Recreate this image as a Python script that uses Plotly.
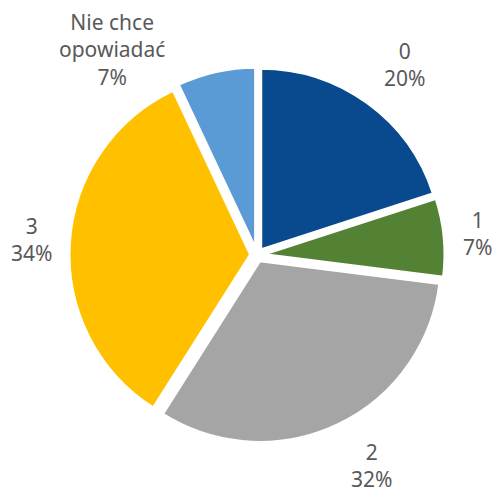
import plotly.graph_objects as go

categories = ["0", "1", "2", "3", "Nie chce<br>opowiadać"]
values = [20, 7, 32, 34, 7]
colors = ["#094A8F", "#548235", "#A5A5A5", "#FFC000", "#5B9BD5"]

W, H = 493, 492
CX, CY, R = 257, 255, 188  # pie centre and outer radius (pixels)

# label block centres (pixels), in category order
label_pos = [(404, 65), (477, 233), (371, 465), (31, 239), (112, 50)]

total = sum(values)
label_texts = [f"{c}<br>{round(v / total * 100)}%" for c, v in zip(categories, values)]

fig = go.Figure(go.Pie(
    labels=categories,
    values=values,
    sort=False,
    direction="clockwise",
    rotation=0,
    marker=dict(colors=colors, line=dict(color="white", width=3)),
    pull=[0.035] * len(values),
    textinfo="none",
    showlegend=False,
    hoverinfo="label+percent",
    domain=dict(x=[(CX - R) / W, (CX + R) / W], y=[1 - (CY + R) / H, 1 - (CY - R) / H]),
))

for txt, (px, py) in zip(label_texts, label_pos):
    fig.add_annotation(
        x=px / W, y=1 - py / H, xref="paper", yref="paper",
        text=txt, showarrow=False, xanchor="center", yanchor="middle",
        align="center",
        font=dict(family="Noto Sans", size=21, color="#595959"),
    )

fig.update_layout(
    width=W, height=H,
    margin=dict(l=0, r=0, t=0, b=0),
    paper_bgcolor="white",
    plot_bgcolor="white",
)

fig.write_html(
    "out.html",
    config={"displayModeBar": False},
    post_script="document.body.style.margin='0';document.body.style.overflow='hidden';",
)
